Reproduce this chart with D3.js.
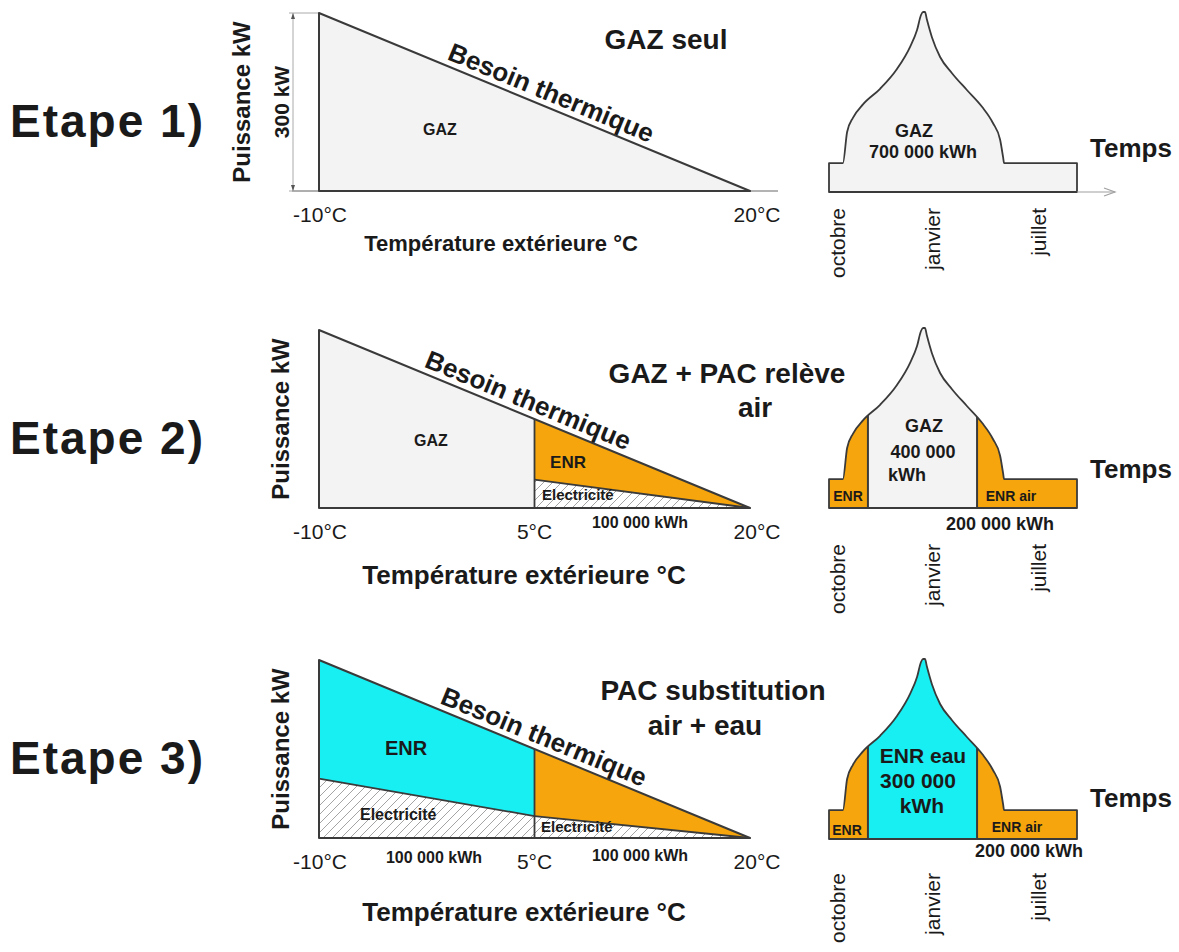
<!DOCTYPE html>
<html>
<head>
<meta charset="utf-8">
<script src="https://cdn.jsdelivr.net/npm/d3@7"></script>
<style>
  body { margin: 0; background: #fff; }
  svg { display: block; }
  text { font-family: "Liberation Sans", Arial, sans-serif; fill: #1a1a1a; }
</style>
</head>
<body>
<svg id="chart" width="1179" height="952"></svg>
<script>
// --- données ---
var tempExt = [-10, 20];            // °C
var besoinKW = [300, 0];            // besoin thermique (kW)
var tempTicks = [-10, 5, 20];
var tempTickLabels = ['-10°C', '5°C', '20°C'];
var tempRelais = 5;                 // bascule PAC / GAZ
var elec2T = [5, 20], elec2KW = [48, 0];
var elec3aT = [-10, 5], elec3aKW = [100, 37];
var elec3bT = [5, 20], elec3bKW = [37, 0];

// monotone de charge sur la saison (temps schématique 0..100)
var loadT  = [0, 5.6, 7.3, 9.7, 13.7, 20.6, 27.4, 32.7, 35.5, 37.1, 37.9, 38.7, 39.5, 41.5, 44.8, 49.6, 55.6, 61.7, 66.1, 69.0, 70.2, 70.6, 100];
var loadKW = [48, 48, 100, 124, 146, 172, 205, 242, 270, 295, 300, 300, 287, 258, 225, 198, 170, 142, 115, 87, 58, 48, 48];
var enrSplit = [15.7, 59.7];
var monthLabels = ['octobre', 'janvier', 'juillet'];
var monthT = [6.5, 44.6, 87.3];

var stepLabels = ['Etape 1)', 'Etape 2)', 'Etape 3)'];
var titles = [['GAZ seul'], ['GAZ + PAC relève', 'air'], ['PAC substitution', 'air + eau']];

var ORANGE = '#f6a60c', CYAN = '#18eff2', GREY = '#f3f3f3', LINE = '#3a3a3a';

var svg = d3.select('#chart');
var defs = svg.append('defs');
var pat = defs.append('pattern').attr('id', 'hatch')
  .attr('patternUnits', 'userSpaceOnUse').attr('width', 9).attr('height', 9);
pat.append('rect').attr('width', 9).attr('height', 9).attr('fill', '#fff');
pat.append('path').attr('d', 'M-2,2 l4,-4 M0,9 l9,-9 M7,11 l4,-4')
  .attr('stroke', '#a4a4a4').attr('stroke-width', 1);

var x = d3.scaleLinear().domain(tempExt).range([319, 750]);
var besoin = d3.scaleLinear().domain(tempExt).range(besoinKW);
var tx = d3.scaleLinear().domain([0, 100]).range([829, 1077]);

function label(g, px, py, txt, size, weight, anchor, rot) {
  var t = g.append('text')
    .attr('transform', 'translate(' + px + ',' + py + ')' + (rot ? ' rotate(' + rot + ')' : ''))
    .attr('font-size', size).attr('font-weight', weight || 'normal')
    .attr('text-anchor', anchor || 'middle').text(txt);
  return t;
}

function band(g, y, ts, topFn, botFn, fill) {
  g.append('path').datum(ts)
    .attr('d', d3.area().x(d => x(d)).y1(d => y(topFn(d))).y0(d => y(botFn(d))))
    .attr('fill', fill);
}

function seg(g, y, t0, p0, t1, p1) {
  g.append('line').attr('x1', x(t0)).attr('y1', y(p0)).attr('x2', x(t1)).attr('y2', y(p1))
    .attr('stroke', LINE).attr('stroke-width', 1.8);
}

// ----- panneau gauche (puissance / température) -----
function leftPanel(i, bottom) {
  var g = svg.append('g');
  var y = d3.scaleLinear().domain([0, 300]).range([bottom, bottom - 178]);
  var zero = () => 0;

  if (i === 0) {
    g.append('line').attr('x1', 292).attr('x2', 778).attr('y1', bottom).attr('y2', bottom)
      .attr('stroke', '#9a9a9a').attr('stroke-width', 1.5);
    // cote 300 kW
    var dx = 293;
    g.append('line').attr('x1', dx).attr('x2', dx).attr('y1', y(300)).attr('y2', y(0))
      .attr('stroke', '#aaa').attr('stroke-width', 1);
    [300, 0].forEach(function (p) {
      g.append('line').attr('x1', 289).attr('x2', x(-10)).attr('y1', y(p)).attr('y2', y(p))
        .attr('stroke', '#aaa').attr('stroke-width', 1);
    });
    g.append('path').attr('d', 'M' + dx + ',' + y(300) + ' l-2,6 h4 z').attr('fill', '#555');
    g.append('path').attr('d', 'M' + dx + ',' + y(0) + ' l-2,-6 h4 z').attr('fill', '#555');
    label(g, 289, (y(0) + y(300)) / 2, '300 kW', 21, 'bold', 'middle', -90);
  }

  if (i === 0) {
    band(g, y, tempExt, besoin, zero, GREY);
  } else if (i === 1) {
    var e2 = d3.scaleLinear().domain(elec2T).range(elec2KW);
    band(g, y, [tempExt[0], tempRelais], besoin, zero, GREY);
    band(g, y, elec2T, besoin, e2, ORANGE);
    band(g, y, elec2T, e2, zero, 'url(#hatch)');
    seg(g, y, elec2T[0], elec2KW[0], elec2T[1], elec2KW[1]);
  } else {
    var e3a = d3.scaleLinear().domain(elec3aT).range(elec3aKW);
    var e3b = d3.scaleLinear().domain(elec3bT).range(elec3bKW);
    band(g, y, elec3aT, besoin, e3a, CYAN);
    band(g, y, elec3aT, e3a, zero, 'url(#hatch)');
    band(g, y, elec3bT, besoin, e3b, ORANGE);
    band(g, y, elec3bT, e3b, zero, 'url(#hatch)');
    seg(g, y, elec3aT[0], elec3aKW[0], elec3aT[1], elec3aKW[1]);
    seg(g, y, elec3bT[0], elec3bKW[0], elec3bT[1], elec3bKW[1]);
  }
  if (i > 0) seg(g, y, tempRelais, 0, tempRelais, besoin(tempRelais));

  // contour du besoin
  var tri = [[tempExt[0], 0], [tempExt[0], besoinKW[0]], [tempExt[1], besoinKW[1]]];
  g.append('path').attr('d', d3.line().x(d => x(d[0])).y(d => y(d[1]))(tri) + 'Z')
    .attr('fill', 'none').attr('stroke', LINE).attr('stroke-width', 2).attr('stroke-linejoin', 'round');

  // Besoin thermique, le long de la droite
  var ang = Math.atan2(y(besoinKW[1]) - y(besoinKW[0]), x(tempExt[1]) - x(tempExt[0])) * 180 / Math.PI;
  var tStart = [-1.3, -2.9, -1.8][i];
  label(g, x(tStart), y(besoin(tStart)), 'Besoin thermique', 26, 'bold', 'start', ang)
    .attr('dy', -6);

  // axe des températures
  var tickOff = [1, 0, 7];
  var tickVals = i === 0 ? [0, 2] : [0, 1, 2];
  tickVals.forEach(function (k) {
    label(g, x(tempTicks[k]) + tickOff[k], bottom + 31, tempTickLabels[k], 21, 'normal', 'middle');
  });
  label(g, 501 + (i ? 23 : 0), bottom + [60, 76, 83][i], 'Température extérieure °C', i ? 26 : 22, 'bold', 'middle');
  label(g, [250, 289, 289][i], bottom - 89, 'Puissance kW', 24, 'bold', 'middle', -90);

  // étiquettes internes
  if (i === 0) label(g, 440, bottom - 56, 'GAZ', 16, 'bold');
  if (i === 1) {
    label(g, 431, bottom - 62, 'GAZ', 16, 'bold');
    label(g, 568, bottom - 40, 'ENR', 17, 'bold');
    label(g, 542, bottom - 8, 'Electricité', 15, 'bold', 'start');
    label(g, 640, bottom + 20, '100 000 kWh', 16, 'bold');
  }
  if (i === 2) {
    label(g, 406, bottom - 83, 'ENR', 20, 'bold');
    label(g, 360, bottom - 18, 'Electricité', 16, 'bold', 'start');
    label(g, 541, bottom - 6, 'Electricité', 15, 'bold', 'start');
    label(g, 434, bottom + 25, '100 000 kWh', 16, 'bold');
    label(g, 640, bottom + 23, '100 000 kWh', 16, 'bold');
  }
}

// ----- panneau droit (monotone saisonnière) -----
function rightPanel(i, bottom) {
  var g = svg.append('g');
  var ry = d3.scaleLinear().domain([0, 300]).range([bottom, bottom - 180]);
  var data = loadT.map((t, k) => ({ t: t, p: loadKW[k] }));
  var area = d3.area().curve(d3.curveMonotoneX)
    .x(d => tx(d.t)).y0(ry(0)).y1(d => ry(d.p));
  var d = area(data);

  var cid = 'load' + i;
  defs.append('clipPath').attr('id', cid).append('path').attr('d', d);
  var mid = 'mid' + i;
  defs.append('clipPath').attr('id', mid).append('rect')
    .attr('x', tx(enrSplit[0])).attr('width', tx(enrSplit[1]) - tx(enrSplit[0]))
    .attr('y', ry(320)).attr('height', ry(0) - ry(320) + 2);

  g.append('path').attr('d', d).attr('fill', i === 0 ? GREY : ORANGE);
  if (i > 0) {
    g.append('path').attr('d', d).attr('clip-path', 'url(#' + mid + ')')
      .attr('fill', i === 1 ? GREY : CYAN);
    enrSplit.forEach(function (t) {
      g.append('line').attr('x1', tx(t)).attr('x2', tx(t)).attr('y1', ry(0)).attr('y2', ry(310))
        .attr('stroke', LINE).attr('stroke-width', 2).attr('clip-path', 'url(#' + cid + ')');
    });
  }
  g.append('path').attr('d', d).attr('fill', 'none').attr('stroke', LINE)
    .attr('stroke-width', 1.8).attr('stroke-linejoin', 'round');

  if (i === 0) {
    g.append('line').attr('x1', tx(100)).attr('x2', 1115).attr('y1', ry(0)).attr('y2', ry(0))
      .attr('stroke', '#a0a0a0').attr('stroke-width', 1.2);
    g.append('path').attr('d', 'M1104,' + (ry(0) - 4) + ' L1115,' + ry(0) + ' L1104,' + (ry(0) + 4))
      .attr('fill', 'none').attr('stroke', '#a0a0a0').attr('stroke-width', 1.2);
  }

  label(g, 1090, bottom - [35, 30, 32][i], 'Temps', 26, 'bold', 'start');

  var mOff = [16, 36, 34][i];
  monthLabels.forEach(function (m, k) {
    label(g, tx(monthT[k]), bottom + mOff, m, 21, 'normal', 'end', -90);
  });

  if (i === 0) {
    label(g, 914, bottom - 55, 'GAZ', 18, 'bold');
    label(g, 923, bottom - 34, '700 000 kWh', 18, 'bold');
  }
  if (i === 1) {
    label(g, 924, bottom - 76, 'GAZ', 18, 'bold');
    label(g, 923, bottom - 50, '400 000', 18, 'bold');
    label(g, 907, bottom - 27, 'kWh', 18, 'bold');
    label(g, 848, bottom - 7, 'ENR', 14, 'bold');
    label(g, 1011, bottom - 7, 'ENR air', 14, 'bold');
    label(g, 1000, bottom + 22, '200 000 kWh', 18, 'bold');
  }
  if (i === 2) {
    label(g, 923, bottom - 76, 'ENR eau', 21, 'bold');
    label(g, 918, bottom - 51, '300 000', 21, 'bold');
    label(g, 922, bottom - 26, 'kWh', 21, 'bold');
    label(g, 847, bottom - 4, 'ENR', 14, 'bold');
    label(g, 1017, bottom - 7, 'ENR air', 14, 'bold');
    label(g, 1029, bottom + 18, '200 000 kWh', 18, 'bold');
  }
}

var leftBottoms = [191, 508, 838];
var rightBottoms = [192, 508, 839];
leftBottoms.forEach((b, i) => leftPanel(i, b));
rightBottoms.forEach((b, i) => rightPanel(i, b));

// étapes et titres
var stepBase = [137, 454, 774];
stepLabels.forEach(function (s, i) {
  label(svg, 10, stepBase[i], s, 46, 'bold', 'start').attr('letter-spacing', 2);
});
var titlePos = [[[666, 49]], [[727, 383], [755, 417]], [[713, 700], [705, 735]]];
titles.forEach(function (lines, i) {
  lines.forEach(function (t, k) {
    label(svg, titlePos[i][k][0], titlePos[i][k][1], t, 28, 'bold', 'middle');
  });
});
</script>
</body>
</html>
